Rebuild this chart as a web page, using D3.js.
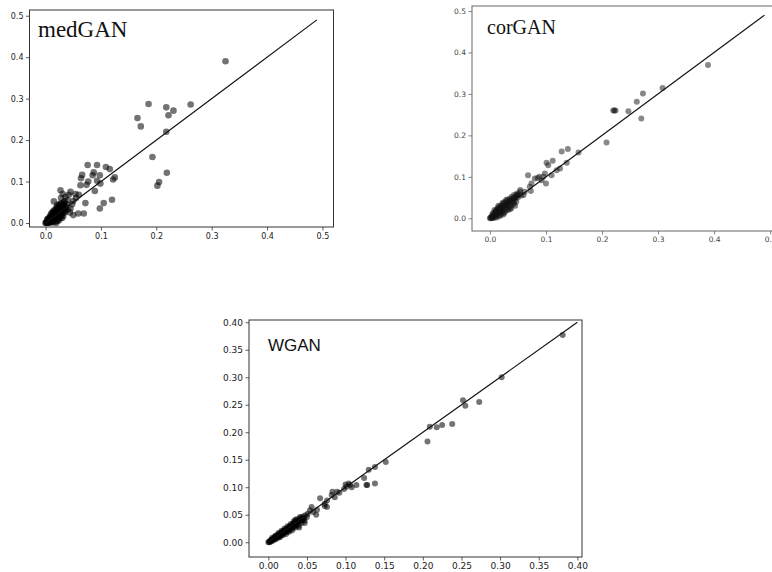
<!DOCTYPE html>
<html>
<head>
<meta charset="utf-8">
<script src="https://cdn.jsdelivr.net/npm/d3@7"></script>
<style>
  body { margin: 0; background: #fff; }
  svg { display: block; }
  .tick text { font-family: "DejaVu Sans", sans-serif; }
</style>
</head>
<body>
<svg id="chart" width="772" height="572"></svg>
<script>
// panel titles
const titles = ["medGAN", "corGAN", "WGAN"];

// tick values for each panel
const medTicks = [0, 0.1, 0.2, 0.3, 0.4, 0.5];
const corTicks = [0, 0.1, 0.2, 0.3, 0.4, 0.5];
const wganTicks = [0, 0.05, 0.1, 0.15, 0.2, 0.25, 0.3, 0.35, 0.4];

// identity line end (x = y)
const lineEnds = [0.49, 0.49, 0.40];

const medganPoints = [
  [0.325,0.390],[0.186,0.287],[0.262,0.286],[0.166,0.253],[0.172,0.233],[0.218,0.279],
  [0.222,0.260],[0.231,0.271],[0.218,0.220],[0.193,0.159],[0.219,0.121],[0.205,0.099],[0.202,0.090],
  [0.076,0.140],[0.093,0.140],[0.109,0.135],[0.116,0.130],[0.125,0.110],[0.122,0.105],[0.087,0.122],
  [0.085,0.115],[0.098,0.115],[0.066,0.116],[0.064,0.108],[0.063,0.091],[0.074,0.092],[0.077,0.100],
  [0.093,0.102],[0.099,0.095],[0.089,0.077],[0.120,0.056],[0.105,0.048],[0.098,0.035],[0.072,0.048],
  [0.069,0.023],[0.059,0.023],[0.050,0.019],[0.045,0.035],[0.027,0.079],[0.015,0.052],[0.045,0.075],
  [0.054,0.070],[0.060,0.068],[0.036,0.063],[0.040,0.055],[0.050,0.053],[0.031,0.070],[0.042,0.068],
  [0.048,0.045],[0.038,0.045],[0.055,0.060],[0.028,0.060],[0.034,0.052],[0.044,0.025],[0.040,0.032],
  [0.000,0.000],[0.001,0.001],[0.002,0.000],[0.002,0.003],[0.003,0.001],[0.004,0.004],[0.005,0.002],
  [0.005,0.007],[0.006,0.000],[0.006,0.004],[0.007,0.010],[0.008,0.002],[0.008,0.006],[0.009,0.013],
  [0.010,0.004],[0.010,0.009],[0.011,0.016],[0.012,0.001],[0.012,0.007],[0.013,0.012],[0.013,0.020],
  [0.014,0.005],[0.015,0.010],[0.015,0.016],[0.016,0.024],[0.017,0.003],[0.017,0.013],[0.018,0.019],
  [0.018,0.008],[0.019,0.028],[0.020,0.012],[0.020,0.022],[0.021,0.005],[0.021,0.017],[0.022,0.032],
  [0.022,0.026],[0.023,0.010],[0.023,0.020],[0.024,0.036],[0.024,0.015],[0.025,0.028],[0.026,0.023],
  [0.026,0.040],[0.027,0.012],[0.027,0.033],[0.028,0.018],[0.028,0.043],[0.029,0.027],[0.030,0.036],
  [0.030,0.022],[0.031,0.040],[0.032,0.030],[0.032,0.017],[0.033,0.044],[0.034,0.035],[0.035,0.026],
  [0.025,0.045],[0.020,0.038],[0.015,0.030],[0.010,0.022],[0.036,0.040],[0.031,0.047],[0.003,0.008],
  [0.007,0.014],[0.012,0.025],[0.019,0.000],[0.024,0.006],
  [0.004,0.010],[0.009,0.018],[0.014,0.027],[0.018,0.033],[0.023,0.040],[0.029,0.035],[0.033,0.025],
  [0.026,0.016],[0.016,0.008],[0.011,0.003],[0.020,0.028],[0.027,0.047],[0.035,0.038],[0.030,0.012],
  [0.022,0.014],[0.017,0.022],[0.013,0.015],[0.008,0.011],[0.004,0.001],[0.037,0.032],[0.021,0.043],
  [0.033,0.049]
];

const corganPoints = [
  [0.389,0.370],[0.308,0.314],[0.273,0.301],[0.262,0.281],[0.247,0.258],[0.270,0.241],[0.220,0.260],
  [0.222,0.260],[0.224,0.260],[0.208,0.183],[0.158,0.159],[0.139,0.167],[0.128,0.161],[0.137,0.134],
  [0.112,0.139],[0.101,0.134],[0.104,0.128],[0.125,0.120],[0.119,0.116],[0.110,0.104],[0.098,0.108],
  [0.068,0.104],[0.085,0.097],[0.088,0.100],[0.092,0.092],[0.100,0.084],[0.074,0.084],[0.071,0.076],
  [0.062,0.064],[0.073,0.066],[0.054,0.068],[0.060,0.056],[0.048,0.056],[0.095,0.100],[0.080,0.096],
  [0.000,0.000],[0.001,0.002],[0.002,0.000],[0.003,0.004],[0.004,0.001],[0.004,0.007],[0.005,0.003],
  [0.006,0.010],[0.006,0.005],[0.007,0.001],[0.008,0.008],[0.008,0.013],[0.009,0.004],[0.010,0.011],
  [0.010,0.017],[0.011,0.007],[0.012,0.014],[0.012,0.021],[0.013,0.009],[0.014,0.018],[0.014,0.025],
  [0.015,0.012],[0.016,0.022],[0.016,0.005],[0.017,0.028],[0.018,0.016],[0.018,0.024],[0.019,0.011],
  [0.020,0.030],[0.020,0.020],[0.021,0.014],[0.022,0.026],[0.022,0.034],[0.023,0.019],[0.024,0.030],
  [0.024,0.009],[0.025,0.037],[0.026,0.024],[0.027,0.032],[0.027,0.016],[0.028,0.040],[0.029,0.028],
  [0.030,0.036],[0.030,0.021],[0.031,0.044],[0.032,0.031],[0.033,0.040],[0.034,0.026],[0.035,0.048],
  [0.036,0.036],[0.037,0.044],[0.038,0.030],[0.039,0.052],[0.040,0.040],[0.041,0.047],[0.042,0.034],
  [0.043,0.056],[0.044,0.045],[0.046,0.052],[0.047,0.040],[0.048,0.060],[0.050,0.050],[0.052,0.058],
  [0.054,0.064],[0.056,0.055],[0.045,0.030],[0.036,0.022],[0.008,0.020],[0.012,0.002],
  [0.005,0.012],[0.011,0.018],[0.017,0.021],[0.021,0.026],[0.026,0.031],[0.031,0.036],[0.035,0.041],
  [0.040,0.046],[0.044,0.050],[0.049,0.055],[0.019,0.007],[0.025,0.013],[0.032,0.020],[0.038,0.025],
  [0.043,0.038],[0.015,0.030],[0.023,0.038],[0.029,0.045]
];

const wganPoints = [
  [0.381,0.377],[0.302,0.300],[0.273,0.255],[0.252,0.258],[0.255,0.248],[0.238,0.215],[0.225,0.213],
  [0.218,0.209],[0.209,0.210],[0.206,0.183],[0.152,0.146],[0.138,0.137],[0.130,0.132],[0.138,0.107],
  [0.124,0.117],[0.127,0.104],[0.128,0.104],[0.114,0.104],
  [0.104,0.107],[0.101,0.101],[0.106,0.104],[0.100,0.105],[0.108,0.100],[0.098,0.097],[0.089,0.092],
  [0.083,0.092],[0.082,0.086],[0.076,0.076],[0.076,0.064],[0.073,0.066],[0.067,0.080],[0.063,0.059],
  [0.062,0.050],[0.056,0.064],[0.051,0.052],[0.045,0.042],[0.040,0.027],[0.035,0.041],[0.047,0.035],
  [0.073,0.070],[0.058,0.055],[0.054,0.058],[0.092,0.090],[0.086,0.082],
  [0.000,0.000],[0.001,0.001],[0.002,0.000],[0.002,0.002],[0.003,0.003],[0.004,0.002],[0.004,0.005],
  [0.005,0.004],[0.006,0.003],[0.006,0.006],[0.007,0.007],[0.008,0.005],[0.008,0.009],[0.009,0.008],
  [0.010,0.006],[0.010,0.011],[0.011,0.010],[0.012,0.008],[0.012,0.013],[0.013,0.012],[0.014,0.010],
  [0.014,0.015],[0.015,0.014],[0.016,0.012],[0.016,0.017],[0.017,0.016],[0.018,0.014],[0.018,0.019],
  [0.019,0.018],[0.020,0.016],[0.020,0.021],[0.021,0.020],[0.022,0.018],[0.022,0.023],[0.023,0.022],
  [0.024,0.019],[0.024,0.025],[0.025,0.024],[0.026,0.021],[0.026,0.027],[0.027,0.026],[0.028,0.023],
  [0.028,0.029],[0.029,0.028],[0.030,0.025],[0.030,0.031],[0.031,0.030],[0.032,0.027],[0.032,0.034],
  [0.033,0.032],[0.034,0.029],[0.034,0.036],[0.035,0.034],[0.036,0.031],[0.036,0.038],[0.037,0.036],
  [0.038,0.033],[0.039,0.040],[0.040,0.037],[0.041,0.043],[0.042,0.039],[0.043,0.045],[0.044,0.041],
  [0.045,0.047],[0.046,0.043],[0.048,0.049],[0.050,0.046],
  [0.005,0.008],[0.009,0.012],[0.013,0.017],[0.017,0.021],[0.021,0.025],[0.025,0.029],[0.029,0.033],
  [0.033,0.038],[0.037,0.042],[0.041,0.046],[0.015,0.009],[0.019,0.013],[0.023,0.015],[0.027,0.019],
  [0.031,0.022],[0.035,0.027],[0.039,0.030],[0.043,0.035],[0.047,0.039]
];

const svg = d3.select("#chart");

// layout of each panel (frame in pixels, axis limits)
const panels = [
  { title: titles[0], points: medganPoints, ticks: medTicks, fmt: ".1f", end: lineEnds[0],
    xDom: [-0.029, 0.52], yDom: [-0.0097, 0.5138], left: 29.5, right: 333.5, top: 10, bottom: 227,
    r: 3.3, fill: "#000", op: 0.55, font: 8, axisColor: "#333", tickColor: "#222",
    titleFont: "'Liberation Serif', 'Times New Roman', serif", titleSize: 23, tx: 38, ty: 37 },
  { title: titles[1], points: corganPoints, ticks: corTicks, fmt: ".1f", end: lineEnds[1],
    xDom: [-0.032, 0.53], yDom: [-0.0306, 0.512], left: 472, right: 787, top: 6, bottom: 231,
    r: 3, fill: "#111", op: 0.5, font: 7.5, axisColor: "#666", tickColor: "#444",
    titleFont: "'Liberation Serif', 'Times New Roman', serif", titleSize: 20, tx: 487, ty: 34 },
  { title: titles[2], points: wganPoints, ticks: wganTicks, fmt: ".2f", end: lineEnds[2],
    xDom: [-0.025, 0.406], yDom: [-0.0268, 0.4041], left: 249, right: 582, top: 320, bottom: 557,
    r: 3, fill: "#000", op: 0.55, font: 9, axisColor: "#333", tickColor: "#222",
    titleFont: "'Liberation Sans', Arial, sans-serif", titleSize: 17, tx: 268, ty: 351 }
];

panels.forEach((p, i) => {
  const x = d3.scaleLinear().domain(p.xDom).range([p.left, p.right]);
  const y = d3.scaleLinear().domain(p.yDom).range([p.bottom, p.top]);
  const g = svg.append("g");

  g.append("clipPath").attr("id", "clip" + i)
    .append("rect")
    .attr("x", p.left).attr("y", p.top)
    .attr("width", p.right - p.left).attr("height", p.bottom - p.top);

  // axes
  const xAxis = d3.axisBottom(x).tickValues(p.ticks).tickFormat(d3.format(p.fmt))
    .tickSize(3.5).tickPadding(2.5);
  const yAxis = d3.axisLeft(y).tickValues(p.ticks).tickFormat(d3.format(p.fmt))
    .tickSize(3.5).tickPadding(2.5);

  const gx = g.append("g").attr("transform", `translate(0,${p.bottom})`).call(xAxis);
  const gy = g.append("g").attr("transform", `translate(${p.left},0)`).call(yAxis);
  [gx, gy].forEach(a => {
    a.select(".domain").remove();
    a.selectAll(".tick line").attr("stroke", p.axisColor).attr("stroke-width", 0.8);
    a.selectAll(".tick text").attr("fill", p.tickColor).style("font-size", p.font + "px");
  });

  // frame
  g.append("rect")
    .attr("x", p.left).attr("y", p.top)
    .attr("width", p.right - p.left).attr("height", p.bottom - p.top)
    .attr("fill", "none").attr("stroke", p.axisColor).attr("stroke-width", 1);

  const plot = g.append("g").attr("clip-path", `url(#clip${i})`);

  plot.selectAll("circle")
    .data(p.points)
    .join("circle")
    .attr("cx", d => x(d[0]))
    .attr("cy", d => y(d[1]))
    .attr("r", p.r)
    .attr("fill", p.fill)
    .attr("fill-opacity", p.op);

  // identity line
  plot.append("line")
    .attr("x1", x(0)).attr("y1", y(0))
    .attr("x2", x(p.end)).attr("y2", y(p.end))
    .attr("stroke", "#111").attr("stroke-width", 1.2);

  g.append("text")
    .attr("x", p.tx).attr("y", p.ty)
    .attr("font-family", p.titleFont)
    .attr("font-size", p.titleSize)
    .attr("fill", "#111")
    .text(p.title);
});
</script>
</body>
</html>
